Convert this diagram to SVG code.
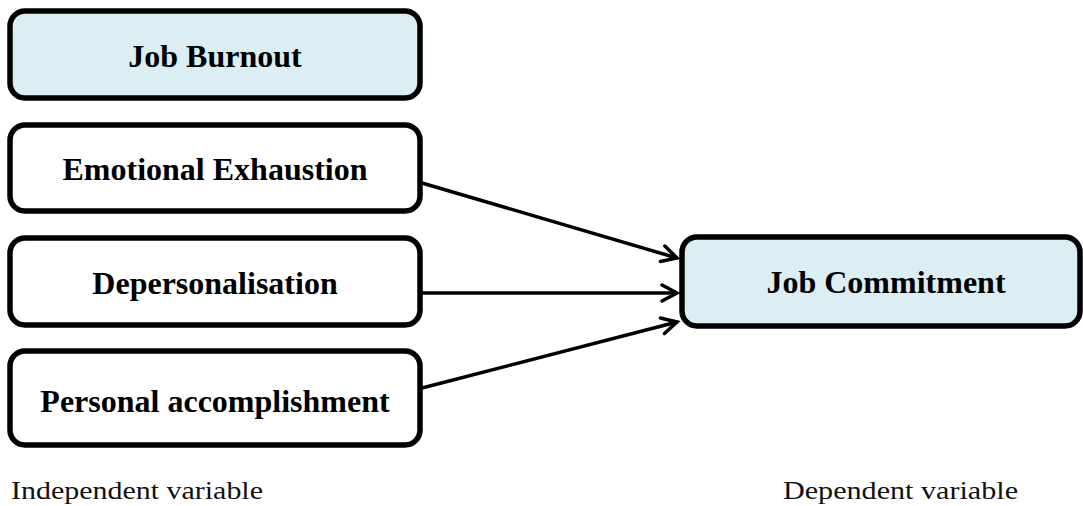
<svg xmlns="http://www.w3.org/2000/svg" width="1083" height="506" viewBox="0 0 1083 506">
<defs>
<style>
.box{stroke:#000;stroke-width:5.5;}
.blue{fill:#DAEEF3;}
.white{fill:#fff;}
.lbl{font-family:"Liberation Serif","Times New Roman",serif;font-weight:bold;font-size:32px;fill:#000;text-anchor:middle;}
.cap{font-family:"Liberation Serif","Times New Roman",serif;font-size:25px;fill:#111;}
.conn{stroke:#000;stroke-width:3.5;fill:none;marker-end:url(#arr);}
</style>
<marker id="arr" markerUnits="userSpaceOnUse" markerWidth="30" markerHeight="30" refX="0" refY="0" viewBox="-20 -15 30 30" orient="auto" overflow="visible">
<path d="M-15,-8 L0,0 L-15,8" fill="none" stroke="#000" stroke-width="3.5" stroke-linecap="round" stroke-linejoin="miter"/>
</marker>
</defs>
<rect width="1083" height="506" fill="#fff"/>
<g id="connectors">
<line class="conn" x1="422" y1="183" x2="677" y2="258"/>
<line class="conn" x1="422" y1="293" x2="677" y2="293"/>
<line class="conn" x1="422" y1="388" x2="677" y2="322"/>
</g>
<g id="job-burnout">
<rect class="box blue" x="10" y="11" width="410" height="87" rx="15"/>
<text class="lbl" x="215" y="67">Job Burnout</text>
</g>
<g id="emotional-exhaustion">
<rect class="box white" x="10" y="125" width="410" height="86" rx="15"/>
<text class="lbl" x="215" y="180">Emotional Exhaustion</text>
</g>
<g id="depersonalisation">
<rect class="box white" x="10" y="238" width="410" height="87" rx="15"/>
<text class="lbl" x="215" y="294">Depersonalisation</text>
</g>
<g id="personal-accomplishment">
<rect class="box white" x="10" y="351" width="410" height="94" rx="15"/>
<text class="lbl" x="215" y="412">Personal accomplishment</text>
</g>
<g id="job-commitment">
<rect class="box blue" x="682" y="237" width="398" height="89" rx="15"/>
<text class="lbl" x="886" y="293">Job Commitment</text>
</g>
<g id="captions">
<text class="cap" x="11" y="499" textLength="252" lengthAdjust="spacingAndGlyphs">Independent variable</text>
<text class="cap" x="783" y="499" textLength="235" lengthAdjust="spacingAndGlyphs">Dependent variable</text>
</g>
</svg>
